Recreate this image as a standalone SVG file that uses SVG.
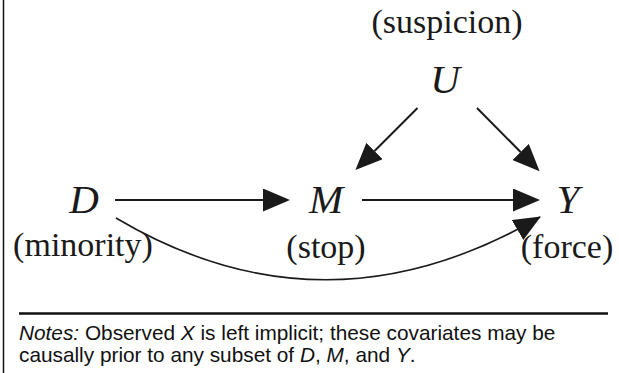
<svg xmlns="http://www.w3.org/2000/svg" width="619" height="373" viewBox="0 0 619 373">
<style>
.var{font-family:"Liberation Serif","Times New Roman",serif;font-style:italic;font-size:41px;fill:#1a1a1a;text-anchor:middle}
.lab{font-family:"Liberation Serif","Times New Roman",serif;font-size:34px;fill:#1a1a1a;text-anchor:middle}
.note{font-family:"Liberation Sans",Arial,sans-serif;font-size:20.8px;fill:#111}
.edge{fill:none;stroke:#1a1a1a;stroke-width:2}
</style>
<defs>
<marker id="ah" markerUnits="userSpaceOnUse" markerWidth="27" markerHeight="23" refX="0" refY="11.5" orient="auto" viewBox="0 0 27 23">
<path d="M0,0 L27,11.5 L0,23 z" fill="#1a1a1a"/>
</marker>
<marker id="ahc" markerUnits="userSpaceOnUse" markerWidth="27" markerHeight="23" refX="26" refY="11.5" orient="auto" viewBox="0 0 27 23">
<path d="M0,0 L27,11.5 L0,23 z" fill="#1a1a1a"/>
</marker>
</defs>
<rect width="619" height="373" fill="#fff"/>
<line x1="3.5" y1="0" x2="3.5" y2="373" stroke="#111" stroke-width="1.5"/>
<g id="edges">
<line class="edge" x1="115" y1="200" x2="263" y2="200" marker-end="url(#ah)"/>
<line class="edge" x1="362" y1="200" x2="513" y2="200" marker-end="url(#ah)"/>
<line class="edge" x1="417.5" y1="108" x2="374.5" y2="151" marker-end="url(#ah)"/>
<line class="edge" x1="477" y1="108" x2="520.6" y2="152" marker-end="url(#ah)"/>
<path class="edge" style="stroke-width:1.6" d="M116,218 Q325,342 540,217" marker-end="url(#ahc)"/>
</g>
<g id="node-U"><text class="lab" x="447" y="33">(suspicion)</text><text class="var" x="445" y="93">U</text></g>
<g id="node-D"><text class="var" x="84" y="213">D</text><text class="lab" x="83" y="256">(minority)</text></g>
<g id="node-M"><text class="var" x="326" y="213">M</text><text class="lab" x="326" y="258">(stop)</text></g>
<g id="node-Y"><text class="var" x="568" y="213">Y</text><text class="lab" x="567" y="258">(force)</text></g>
<g id="notes">
<line x1="19" y1="313.5" x2="608" y2="313.5" stroke="#111" stroke-width="2.5"/>
<text class="note" x="19" y="340"><tspan font-style="italic">Notes:</tspan> Observed <tspan font-style="italic">X</tspan> is left implicit; these covariates may be</text>
<text class="note" x="19" y="362">causally prior to any subset of <tspan font-style="italic">D</tspan>, <tspan font-style="italic">M</tspan>, and <tspan font-style="italic">Y</tspan>.</text>
</g>
</svg>
